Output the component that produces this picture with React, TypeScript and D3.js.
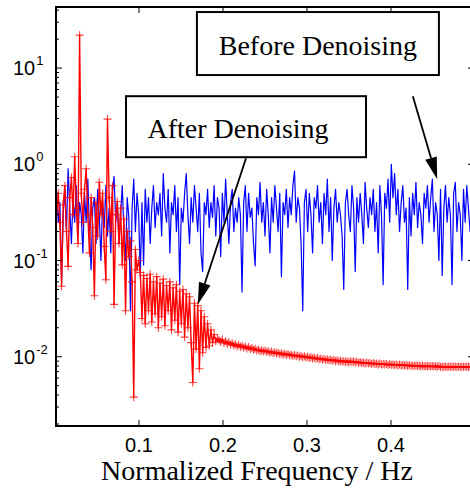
import React, { useEffect, useRef } from 'react';
import * as d3 from 'd3';

const WIDTH = 470;
const HEIGHT = 494;

// 256 spectrum bins spanning normalized frequency 0 .. 0.5
const BIN_COUNT = 256;

// magnitude spectrum before denoising (blue)
const beforeDenoising = [
  0.35, 0.5, 0.25, 0.4, 0.06, 0.3, 0.55, 0.2, 0.9, 0.35, 0.15, 0.45, 0.25, 0.6, 0.18, 0.4,
  0.3, 0.12, 0.5, 0.25, 0.7, 0.2, 0.08, 0.35, 0.45, 0.15, 0.55, 0.3, 0.1, 0.4, 0.22, 0.6,
  0.18, 0.35, 0.12, 0.5, 0.75, 0.25, 0.4, 0.15, 0.3, 0.6, 0.2, 0.1, 0.45, 0.28, 0.03, 0.35,
  0.7, 0.2, 0.5, 0.3, 0.07, 0.4, 0.09, 0.55, 0.25, 0.45, 0.15, 0.35, 0.6, 0.22, 0.4, 0.3,
  0.5, 0.18, 0.8, 0.35, 0.25, 0.55, 0.12, 0.4, 0.3, 0.6, 0.2, 0.45, 0.056, 0.35, 0.25, 0.5,
  0.8, 0.3, 0.15, 0.45, 0.25, 0.6, 0.35, 0.2, 0.5, 0.12, 0.077, 0.4, 0.3, 0.55, 0.22, 0.4,
  0.28, 0.6, 0.18, 0.45, 0.35, 0.11, 0.5, 0.25, 0.7, 0.3, 0.15, 0.4, 0.55, 0.2, 0.35, 0.25,
  0.45, 0.3, 0.047, 0.4, 0.6, 0.2, 0.5, 0.28, 0.35, 0.15, 0.088, 0.45, 0.3, 0.65, 0.25, 0.4,
  0.18, 0.55, 0.3, 0.12, 0.45, 0.25, 0.6, 0.35, 0.2, 0.5, 0.068, 0.4, 0.3, 0.55, 0.22, 0.45,
  0.3, 0.6, 0.85, 0.25, 0.45, 0.35, 0.15, 0.03, 0.4, 0.55, 0.2, 0.5, 0.3, 0.12, 0.45, 0.35,
  0.6, 0.25, 0.4, 0.15, 0.5, 0.3, 0.7, 0.2, 0.45, 0.1, 0.35, 0.55, 0.25, 0.4, 0.3, 0.18,
  0.05, 0.4, 0.55, 0.3, 0.2, 0.6, 0.35, 0.077, 0.45, 0.25, 0.5, 0.3, 0.15, 0.65, 0.35, 0.22,
  0.45, 0.3, 0.55, 0.2, 0.4, 0.12, 0.6, 0.3, 0.056, 0.5, 0.35, 0.7, 0.25, 1.0, 0.45, 0.8,
  0.3, 0.55, 0.2, 0.4, 0.6, 0.25, 0.35, 0.05, 0.45, 0.18, 0.5, 0.3, 0.65, 0.22, 0.4, 0.3,
  0.15, 0.5, 0.35, 0.6, 0.25, 0.45, 0.7, 0.2, 0.4, 0.3, 0.1, 0.55, 0.07, 0.35, 0.6, 0.25,
  0.45, 0.3, 0.056, 0.5, 0.65, 0.2, 0.4, 0.3, 0.1, 0.55, 0.25, 0.6, 0.35, 0.2, 0.45, 0.3
];

// magnitude spectrum after denoising (red, with + markers)
const afterDenoising = [
  0.42, 0.3, 0.5, 0.25, 0.054, 0.38, 0.6, 0.2, 0.087, 0.45, 0.73, 0.3, 1.2, 0.35, 0.15, 22,
  0.5, 0.25, 0.55, 0.9, 0.3, 0.12, 0.45, 0.22, 0.043, 0.4, 0.18, 0.65, 0.3, 0.5, 0.14, 0.063,
  2.95, 0.45, 0.2, 0.6, 0.035, 0.3, 0.41, 0.15, 0.35, 0.09, 0.27, 0.03, 0.2, 0.11, 0.16, 0.06,
  0.0038, 0.13, 0.08, 0.1, 0.075, 0.025, 0.07, 0.022, 0.065, 0.03, 0.072, 0.023, 0.06, 0.028, 0.068, 0.02,
  0.058, 0.026, 0.064, 0.021, 0.055, 0.03, 0.06, 0.019, 0.052, 0.024, 0.056, 0.018, 0.048, 0.022, 0.05, 0.016,
  0.045, 0.02, 0.042, 0.014, 0.0054, 0.036, 0.012, 0.034, 0.0075, 0.03, 0.011, 0.026, 0.0125, 0.022, 0.013, 0.019,
  0.014, 0.017, 0.0145, 0.0155,
  0.0148, 0.0142, 0.0151, 0.0139, 0.0145, 0.0136, 0.0141, 0.0133, 0.0138, 0.0131,
  0.0135, 0.0128, 0.0133, 0.0126, 0.013, 0.0124, 0.0128, 0.0122, 0.0126, 0.012,
  0.0123, 0.0118, 0.0121, 0.0116, 0.0119, 0.0115, 0.0117, 0.0113, 0.0116, 0.0112,
  0.0114, 0.011, 0.0113, 0.0109, 0.0111, 0.0108, 0.011, 0.0106, 0.0109, 0.0105,
  0.0108, 0.0104, 0.0107, 0.0103, 0.0105, 0.0102, 0.0104, 0.0101, 0.0103, 0.01,
  0.0102, 0.0099, 0.0101, 0.0098, 0.01, 0.0097, 0.0099, 0.0096, 0.0098, 0.0095,
  0.0097, 0.0094, 0.0096, 0.0093, 0.0095, 0.0092, 0.0094, 0.0092, 0.0093, 0.0091,
  0.0093, 0.009, 0.0092, 0.0089, 0.0091, 0.0089, 0.009, 0.0088, 0.009, 0.0087,
  0.009, 0.0088, 0.0089, 0.0087, 0.0089, 0.0086, 0.0088, 0.0086, 0.0087, 0.0085,
  0.0087, 0.0085, 0.0086, 0.0084, 0.0086, 0.0084, 0.0085, 0.0083, 0.0085, 0.0083,
  0.0084, 0.0083, 0.0084, 0.0082, 0.0084, 0.0082, 0.0083, 0.0082, 0.0083, 0.0081,
  0.0083, 0.0081, 0.0082, 0.0081, 0.0082, 0.008, 0.0082, 0.008, 0.0081, 0.008,
  0.0081, 0.008, 0.0081, 0.0079, 0.0081, 0.0079, 0.008, 0.0079, 0.008, 0.0079,
  0.008, 0.0079, 0.008, 0.0078, 0.008, 0.0078, 0.0079, 0.0078, 0.0079, 0.0078,
  0.0079, 0.0078, 0.0079, 0.0078, 0.0079, 0.0078, 0.0079, 0.0078, 0.0079, 0.0078, 0.0079, 0.0078, 0.0079, 0.0078, 0.0079, 0.0078
];

const xTicks = [0.1, 0.2, 0.3, 0.4, 0.5];
const xTickLabels = ['0.1', '0.2', '0.3', '0.4'];
const yDecades = [-2, -1, 0, 1];

// text boxes with arrows, placed in data coordinates
const annotations = [
  { label: 'Before Denoising', boxX: 0.313, boxY: 18.0, boxW: 242, boxH: 63, textDx: 0, fromX: 0.426, fromY: 5.1, toX: 0.455, toY: 0.7 },
  { label: 'After Denoising', boxX: 0.2274, boxY: 2.46, boxW: 240, boxH: 61, textDx: -8, fromX: 0.2274, fromY: 1.155, toX: 0.17, toY: 0.0348 }
];

const SANS = '"Liberation Sans", Arial, sans-serif';
const SERIF = '"Liberation Serif", "Times New Roman", serif';

export default function App() {
  const svgRef = useRef<SVGSVGElement | null>(null);

  useEffect(() => {
    if (!svgRef.current) return;
    const svg = d3.select(svgRef.current);
    svg.selectAll('*').remove();

    const margin = { top: 7, left: 55, bottom: 426, right: 475 };

    const x = d3.scaleLinear().domain([0, 0.5]).range([margin.left, margin.right]);
    const y = d3.scaleLog()
      .domain([Math.pow(10, -2.72), Math.pow(10, 1.635)])
      .range([margin.bottom, margin.top]);

    const binX = (i: number) => (i * 0.5) / BIN_COUNT;

    svg.append('rect').attr('width', WIDTH).attr('height', HEIGHT).attr('fill', '#fff');

    svg.append('clipPath').attr('id', 'plot-clip')
      .append('rect')
      .attr('x', margin.left + 1)
      .attr('y', margin.top)
      .attr('width', margin.right - margin.left)
      .attr('height', margin.bottom - margin.top);

    const plot = svg.append('g').attr('clip-path', 'url(#plot-clip)');

    const line = d3.line<number>()
      .x((_, i) => x(binX(i)))
      .y(d => y(d));

    // before denoising (blue)
    plot.append('path')
      .datum(beforeDenoising)
      .attr('d', line)
      .attr('fill', 'none')
      .attr('stroke', '#0000ff')
      .attr('stroke-width', 1.2)
      .attr('stroke-linejoin', 'round');

    // after denoising (red line + markers)
    plot.append('path')
      .datum(afterDenoising)
      .attr('d', line)
      .attr('fill', 'none')
      .attr('stroke', '#ff0000')
      .attr('stroke-width', 1.4)
      .attr('stroke-linejoin', 'round');

    const ms = 4;
    plot.append('g')
      .selectAll('path')
      .data(afterDenoising)
      .enter()
      .append('path')
      .attr('d', (d, i) => {
        const cx = x(binX(i));
        const cy = y(d);
        return `M${cx - ms},${cy}H${cx + ms}M${cx},${cy - ms}V${cy + ms}`;
      })
      .attr('stroke', '#ff0000')
      .attr('stroke-opacity', 0.75)
      .attr('stroke-width', 1.1)
      .attr('fill', 'none');

    // axes box
    const axes = svg.append('g').attr('stroke', '#000').attr('fill', 'none');
    axes.append('rect')
      .attr('x', margin.left + 1)
      .attr('y', margin.top)
      .attr('width', margin.right - margin.left - 1)
      .attr('height', margin.bottom - margin.top)
      .attr('stroke-width', 2);

    // x ticks (bottom and top, pointing inward)
    xTicks.forEach(t => {
      const px = x(t);
      axes.append('line').attr('x1', px).attr('x2', px)
        .attr('y1', margin.bottom).attr('y2', margin.bottom - 6).attr('stroke-width', 1);
      axes.append('line').attr('x1', px).attr('x2', px)
        .attr('y1', margin.top).attr('y2', margin.top + 6).attr('stroke-width', 1);
    });

    // y ticks: decades and minor ticks on left and right
    const [ylo, yhi] = y.domain();
    yDecades.concat([-3]).forEach(dec => {
      for (let k = 1; k <= 9; k++) {
        const v = k * Math.pow(10, dec);
        if (v < ylo || v > yhi) continue;
        const py = y(v);
        const len = k === 1 ? 6 : 3;
        axes.append('line').attr('x1', margin.left + 1).attr('x2', margin.left + 1 + len)
          .attr('y1', py).attr('y2', py).attr('stroke-width', 1);
        axes.append('line').attr('x1', margin.right).attr('x2', margin.right - len - 1)
          .attr('y1', py).attr('y2', py).attr('stroke-width', 1);
      }
    });

    // tick labels
    xTickLabels.forEach(label => {
      svg.append('text')
        .attr('x', x(+label))
        .attr('y', 452)
        .attr('text-anchor', 'middle')
        .attr('font-family', SANS)
        .attr('font-size', 20)
        .attr('fill', '#000')
        .text(label);
    });

    yDecades.forEach(dec => {
      const txt = svg.append('text')
        .attr('x', 13)
        .attr('y', y(Math.pow(10, dec)) + 7)
        .attr('font-family', SANS)
        .attr('font-size', 20)
        .attr('fill', '#000');
      txt.append('tspan').text('10');
      txt.append('tspan')
        .attr('font-size', 13)
        .attr('dx', 1)
        .attr('dy', -10)
        .text(String(dec));
    });

    // x axis title
    svg.append('text')
      .attr('x', 257)
      .attr('y', 480)
      .attr('text-anchor', 'middle')
      .attr('font-family', SERIF)
      .attr('font-size', 28)
      .attr('fill', '#000')
      .text('Normalized Frequency / Hz');

    // annotations
    annotations.forEach(a => {
      const g = svg.append('g');
      const x1 = x(a.fromX), y1 = y(a.fromY);
      const x2 = x(a.toX), y2 = y(a.toY);
      const ang = Math.atan2(y2 - y1, x2 - x1);
      const headLen = 22, headHalf = 6;
      const bx = x2 - headLen * Math.cos(ang);
      const by = y2 - headLen * Math.sin(ang);
      g.append('line')
        .attr('x1', x1).attr('y1', y1).attr('x2', bx).attr('y2', by)
        .attr('stroke', '#000').attr('stroke-width', 1.8);
      const nx = -Math.sin(ang), ny = Math.cos(ang);
      g.append('path')
        .attr('d', `M${x2},${y2}L${bx + nx * headHalf},${by + ny * headHalf}L${bx - nx * headHalf},${by - ny * headHalf}Z`)
        .attr('fill', '#000');

      const cx = x(a.boxX), cy = y(a.boxY);
      g.append('rect')
        .attr('x', cx - a.boxW / 2)
        .attr('y', cy - a.boxH / 2)
        .attr('width', a.boxW)
        .attr('height', a.boxH)
        .attr('fill', '#fff')
        .attr('stroke', '#000')
        .attr('stroke-width', 2);
      g.append('text')
        .attr('x', cx + a.textDx)
        .attr('y', cy + 11)
        .attr('text-anchor', 'middle')
        .attr('font-family', SERIF)
        .attr('font-size', 28)
        .attr('fill', '#000')
        .text(a.label);
    });
  }, []);

  return (
    <svg
      ref={svgRef}
      width={WIDTH}
      height={HEIGHT}
      style={{ position: 'absolute', left: 0, top: 0, background: '#fff' }}
    />
  );
}
